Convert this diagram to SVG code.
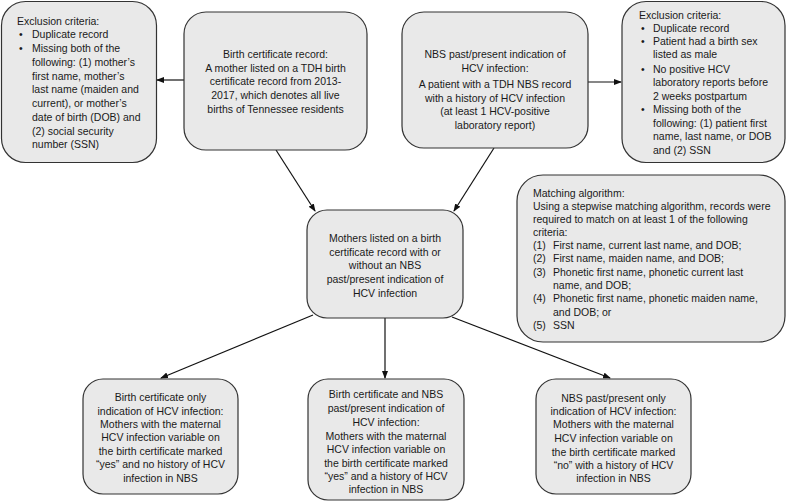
<svg xmlns="http://www.w3.org/2000/svg" width="787" height="503" viewBox="0 0 787 503">
<style>
.box{fill:#e9e9e9;stroke:#333;stroke-width:1.2}
text{font-family:"Liberation Sans",Arial,sans-serif;font-size:10.5px;fill:#1a1a1a}
.c{text-anchor:middle}
.ln{stroke:#111;stroke-width:1.2;fill:none;marker-end:url(#ah)}
</style>
<defs>
<marker id="ah" markerWidth="8" markerHeight="6" refX="7" refY="3" orient="auto" markerUnits="userSpaceOnUse">
<path d="M0,0 L8,3 L0,6 Z" fill="#111"/>
</marker>
</defs>
<rect width="787" height="503" fill="#fff"/>
<g id="connectors">
<line class="ln" x1="184" y1="80" x2="157" y2="80"/>
<line class="ln" x1="588" y1="82" x2="621" y2="82"/>
<line class="ln" x1="276" y1="150" x2="315" y2="211"/>
<line class="ln" x1="494" y1="148" x2="454" y2="211"/>
<line class="ln" x1="313" y1="315" x2="161" y2="378"/>
<line class="ln" x1="385" y1="318" x2="385" y2="378"/>
<line class="ln" x1="452" y1="317" x2="610" y2="378"/>
</g>
<g id="excl-birth">
<rect class="box" x="1.5" y="1.5" width="155" height="161" rx="24"/>
<text x="17" y="25">Exclusion criteria:</text>
<text x="19" y="38">•</text><text x="32" y="38">Duplicate record</text>
<text x="19" y="52">•</text><text x="32" y="52">Missing both of the</text>
<text x="32" y="66">following: (1) mother’s</text>
<text x="32" y="80">first name, mother’s</text>
<text x="32" y="93">last name (maiden and</text>
<text x="32" y="107">current), or mother’s</text>
<text x="32" y="121">date of birth (DOB) and</text>
<text x="32" y="135">(2) social security</text>
<text x="32" y="148">number (SSN)</text>
</g>
<g id="birth-cert">
<rect class="box" x="184" y="12" width="183" height="138" rx="22"/>
<text class="c" x="275.5" y="58">Birth certificate record:</text>
<text class="c" x="275.5" y="71.5">A mother listed on a TDH birth</text>
<text class="c" x="275.5" y="85">certificate record from 2013-</text>
<text class="c" x="275.5" y="99">2017, which denotes all live</text>
<text class="c" x="275.5" y="113">births of Tennessee residents</text>
</g>
<g id="nbs">
<rect class="box" x="402" y="12" width="186" height="136" rx="22"/>
<text class="c" x="495" y="58">NBS past/present indication of</text>
<text class="c" x="495" y="72">HCV infection:</text>
<text class="c" x="495" y="88">A patient with a TDH NBS record</text>
<text class="c" x="495" y="101.5">with a history of HCV infection</text>
<text class="c" x="495" y="115">(at least 1 HCV-positive</text>
<text class="c" x="495" y="129">laboratory report)</text>
</g>
<g id="excl-nbs">
<rect class="box" x="622" y="1.5" width="163" height="161" rx="24"/>
<text x="639" y="19">Exclusion criteria:</text>
<text x="641" y="32">•</text><text x="653" y="32">Duplicate record</text>
<text x="641" y="45">•</text><text x="653" y="45">Patient had a birth sex</text>
<text x="653" y="58">listed as male</text>
<text x="641" y="73">•</text><text x="653" y="73">No positive HCV</text>
<text x="653" y="86">laboratory reports before</text>
<text x="653" y="99.5">2 weeks postpartum</text>
<text x="641" y="113">•</text><text x="653" y="113">Missing both of the</text>
<text x="653" y="127">following: (1) patient first</text>
<text x="653" y="140">name, last name, or DOB</text>
<text x="653" y="154">and (2) SSN</text>
</g>
<g id="mothers">
<rect class="box" x="307" y="210" width="156" height="108" rx="20"/>
<text class="c" x="385" y="242">Mothers listed on a birth</text>
<text class="c" x="385" y="256">certificate record with or</text>
<text class="c" x="385" y="269">without an NBS</text>
<text class="c" x="385" y="283">past/present indication of</text>
<text class="c" x="385" y="297">HCV infection</text>
</g>
<g id="matching">
<rect class="box" x="517" y="175" width="268" height="167" rx="26"/>
<text x="533" y="197">Matching algorithm:</text>
<text x="533" y="210">Using a stepwise matching algorithm, records were</text>
<text x="533" y="223">required to match on at least 1 of the following</text>
<text x="533" y="236">criteria:</text>
<text x="533" y="249">(1)</text><text x="553" y="249">First name, current last name, and DOB;</text>
<text x="533" y="262">(2)</text><text x="553" y="262">First name, maiden name, and DOB;</text>
<text x="533" y="276">(3)</text><text x="553" y="276">Phonetic first name, phonetic current last</text>
<text x="553" y="289">name, and DOB;</text>
<text x="533" y="302">(4)</text><text x="553" y="302">Phonetic first name, phonetic maiden name,</text>
<text x="553" y="316">and DOB; or</text>
<text x="533" y="329">(5)</text><text x="553" y="329">SSN</text>
</g>
<g id="bc-only">
<rect class="box" x="83" y="379" width="155" height="115" rx="20"/>
<text class="c" x="160.5" y="401">Birth certificate only</text>
<text class="c" x="160.5" y="415">indication of HCV infection:</text>
<text class="c" x="160.5" y="428">Mothers with the maternal</text>
<text class="c" x="160.5" y="441">HCV infection variable on</text>
<text class="c" x="160.5" y="455">the birth certificate marked</text>
<text class="c" x="160.5" y="468">“yes” and no history of HCV</text>
<text class="c" x="160.5" y="482">infection in NBS</text>
</g>
<g id="bc-nbs">
<rect class="box" x="308" y="379" width="156" height="121" rx="20"/>
<text class="c" x="386" y="398">Birth certificate and NBS</text>
<text class="c" x="386" y="412">past/present indication of</text>
<text class="c" x="386" y="426">HCV infection:</text>
<text class="c" x="386" y="440">Mothers with the maternal</text>
<text class="c" x="386" y="453">HCV infection variable on</text>
<text class="c" x="386" y="467">the birth certificate marked</text>
<text class="c" x="386" y="480">“yes” and a history of HCV</text>
<text class="c" x="386" y="493">infection in NBS</text>
</g>
<g id="nbs-only">
<rect class="box" x="536" y="379" width="155" height="115" rx="20"/>
<text class="c" x="613.5" y="402">NBS past/present only</text>
<text class="c" x="613.5" y="415">indication of HCV infection:</text>
<text class="c" x="613.5" y="428">Mothers with the maternal</text>
<text class="c" x="613.5" y="442">HCV infection variable on</text>
<text class="c" x="613.5" y="456">the birth certificate marked</text>
<text class="c" x="613.5" y="469">“no” with a history of HCV</text>
<text class="c" x="613.5" y="482">infection in NBS</text>
</g>
</svg>
